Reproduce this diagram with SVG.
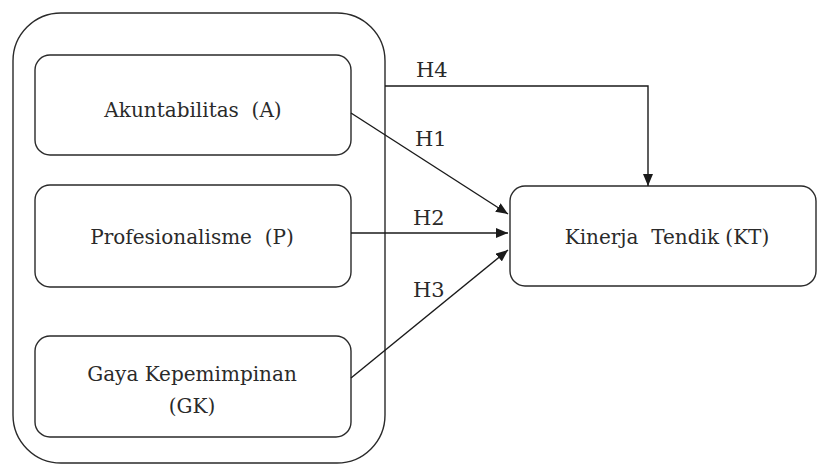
<svg xmlns="http://www.w3.org/2000/svg" width="818" height="465" viewBox="0 0 818 465">
<defs>
<marker id="arr" viewBox="0 0 12 10" refX="12" refY="5" markerWidth="12" markerHeight="10" markerUnits="userSpaceOnUse" orient="auto">
<path d="M0,0 L12,5 L0,10 Z" fill="#1a1a1a"/>
</marker>
</defs>
<style>
.box{fill:#fff;stroke:#2a2a2a;stroke-width:1.4}
.t{font-family:"DejaVu Serif","Liberation Serif",serif;font-size:20px;fill:#2a2a2a;text-anchor:middle;white-space:pre}
.h{font-family:"DejaVu Serif","Liberation Serif",serif;font-size:21px;fill:#2a2a2a}
.c{fill:none;stroke:#1a1a1a;stroke-width:1.4}
</style>
<rect width="818" height="465" fill="#fff"/>
<g id="group">
<rect class="box" x="13" y="13" width="372" height="450" rx="48" ry="48"/>
</g>
<g id="A">
<rect class="box" x="35" y="55" width="316" height="100" rx="15" ry="15"/>
<text class="t" x="193" y="117" xml:space="preserve">Akuntabilitas  (A)</text>
</g>
<g id="P">
<rect class="box" x="35" y="185" width="316" height="102" rx="15" ry="15"/>
<text class="t" x="192" y="244" xml:space="preserve">Profesionalisme  (P)</text>
</g>
<g id="GK">
<rect class="box" x="35" y="336" width="316" height="101" rx="15" ry="15"/>
<text class="t" x="192" y="381">Gaya Kepemimpinan</text>
<text class="t" x="192" y="413">(GK)</text>
</g>
<g id="KT">
<rect class="box" x="510" y="186" width="306" height="100" rx="15" ry="15"/>
<text class="t" x="667" y="244" xml:space="preserve">Kinerja  Tendik (KT)</text>
</g>
<g id="connectors">
<path class="c" d="M385,86 H648 V186" marker-end="url(#arr)"/>
<path class="c" d="M351,113 L508,214" marker-end="url(#arr)"/>
<path class="c" d="M351,233 L508,233" marker-end="url(#arr)"/>
<path class="c" d="M351,378 L508,250" marker-end="url(#arr)"/>
<text class="h" x="416" y="77">H4</text>
<text class="h" x="415" y="146">H1</text>
<text class="h" x="413" y="225">H2</text>
<text class="h" x="413" y="297">H3</text>
</g>
</svg>
